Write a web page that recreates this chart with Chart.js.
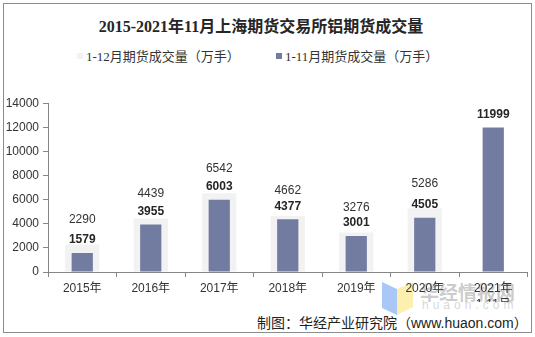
<!DOCTYPE html>
<html lang="zh-CN">
<head>
<meta charset="utf-8">
<title>2015-2021年11月上海期货交易所铝期货成交量</title>
<script src="https://cdn.jsdelivr.net/npm/chart.js@4.4.1/dist/chart.umd.min.js"></script>
<style>
  body { margin: 0; background: #fff; }
  #wrap { position: relative; width: 535px; height: 337px; overflow: hidden; }
  #frame { position: absolute; left: 3px; top: 3px; width: 527px; height: 328px; border: 1px solid #8c8c8c; }
  #titulo { position: absolute; left: 0; top: 13px; width: 522px; text-align: center;
    font: bold 16px "Liberation Serif", "Noto Sans CJK SC", serif; color: #262626; }
  #leyenda { position: absolute; left: 77px; top: 46px; font: 13px "Liberation Serif", "Noto Sans CJK SC", serif; color: #333; }
  #leyenda span.item { position: absolute; white-space: nowrap; }
  #leyenda i { display: inline-block; width: 6px; height: 6px; margin-right: 3px; vertical-align: 2px; }
  #marca { position: absolute; left: 380px; top: 278px; width: 150px; height: 40px; }
  #marca .nombre { position: absolute; left: 40px; top: 0; font: bold 19px "Noto Sans CJK SC", sans-serif; color: rgba(140,140,140,0.45); }
  #marca .web { position: absolute; left: 42px; top: 20px; font: 12px "Liberation Sans", sans-serif; color: rgba(150,150,150,0.4); letter-spacing: 4px; white-space: nowrap; }
  #fuente { position: absolute; left: 257px; top: 312px; font: 14px "Noto Sans CJK SC", sans-serif; color: #222; white-space: nowrap; }
  #fuente .lat { font-family: "Liberation Sans", sans-serif; }
  #lienzo { position: absolute; left: 0; top: 0; width: 535px; height: 337px; }
</style>
</head>
<body>
<div id="wrap">
  <div id="frame"></div>
  <div id="marca">
    <svg width="36" height="38" style="position:absolute;left:0;top:3px">
      <polygon points="2,1 17,8 17,34 2,27" fill="#a9c8f7"/>
      <polygon points="17,8 33,1 33,26 17,34" fill="#fcefb0"/>
    </svg>
    <div class="nombre">华经情报网</div>
    <div class="web">huaon.com</div>
  </div>
  <div id="titulo">2015-2021年11月上海期货交易所铝期货成交量</div>
  <div id="leyenda"></div>
  <div id="fuente">制图：华经产业研究院（<span class="lat">www.huaon.com</span>）</div>
  <div id="lienzo"><canvas id="grafico"></canvas></div>
</div>
<script>
// categorias y series (万手)
const anios = ["2015年", "2016年", "2017年", "2018年", "2019年", "2020年", ["2021年", "1-11月"]];
const totalAnual = [2290, 4439, 6542, 4662, 3276, 5286, null];
const eneroNoviembre = [1579, 3955, 6003, 4377, 3001, 4505, 11999];
const nombresSeries = ["1-12月期货成交量（万手）", "1-11月期货成交量（万手）"];
const ejeY = { min: 0, max: 14000, paso: 2000 };

const colorGris = "#f2f2f2";
const colorAzul = "#727ca1";

//* leyenda en html
const leyenda = document.getElementById("leyenda");
const posLeyenda = [0, 199];
[colorGris, colorAzul].forEach((c, i) => {
  leyenda.innerHTML += `<span class="item" style="left:${posLeyenda[i]}px"><i style="background:${c}"></i>${nombresSeries[i]}</span>`;
});

//* etiquetas de valor encima de cada barra
const etiquetas = {
  id: "etiquetas",
  afterDatasetsDraw(chart) {
    const ctx = chart.ctx;
    ctx.save();
    ctx.textAlign = "center";
    ctx.textBaseline = "middle";
    chart.data.datasets.forEach((ds, i) => {
      const meta = chart.getDatasetMeta(i);
      meta.data.forEach((bar, j) => {
        const v = ds.data[j];
        if (v == null) return;
        ctx.font = (i === 1 ? "bold " : "") + "12px 'Liberation Sans', Arial";
        ctx.fillStyle = i === 1 ? "#262626" : "#333";
        ctx.fillText(v, bar.x, bar.y - (i === 1 ? 13 : 25));
      });
    });
    ctx.restore();
  }
};

const config = {
  type: "bar",
  data: {
    labels: anios,
    datasets: [
      {
        label: nombresSeries[0],
        data: totalAnual,
        backgroundColor: colorGris,
        grouped: false,
        categoryPercentage: 1,
        barPercentage: 0.5,
        order: 1
      },
      {
        label: nombresSeries[1],
        data: eneroNoviembre,
        backgroundColor: colorAzul,
        grouped: false,
        categoryPercentage: 1,
        barPercentage: 0.31,
        order: 0
      }
    ]
  },
  options: {
    responsive: true,
    maintainAspectRatio: false,
    animation: false,
    layout: { padding: { left: 3, right: 7.5, top: 103.5, bottom: 35 } },
    plugins: { legend: { display: false }, title: { display: false }, tooltip: { enabled: false } },
    scales: {
      x: {
        grid: { drawOnChartArea: false, tickLength: 5, color: "#868686", offset: true },
        border: { color: "#868686" },
        ticks: { padding: 4, color: "#333", font: { size: 12, lineHeight: 1.3, family: "'Liberation Sans', 'Noto Sans CJK SC'" } },
        afterFit: (s) => { s.height = 30; }
      },
      y: {
        min: ejeY.min,
        max: ejeY.max,
        grid: { drawOnChartArea: false, tickLength: 5, color: "#868686" },
        border: { color: "#868686" },
        ticks: {
          stepSize: ejeY.paso,
          padding: 4,
          color: "#333",
          font: { size: 12, family: "'Liberation Sans', Arial" },
          callback: (v) => String(v)
        },
        afterFit: (s) => { s.width = 45; }
      }
    }
  },
  plugins: [etiquetas]
};

new Chart(document.getElementById("grafico"), config);
</script>
</body>
</html>
